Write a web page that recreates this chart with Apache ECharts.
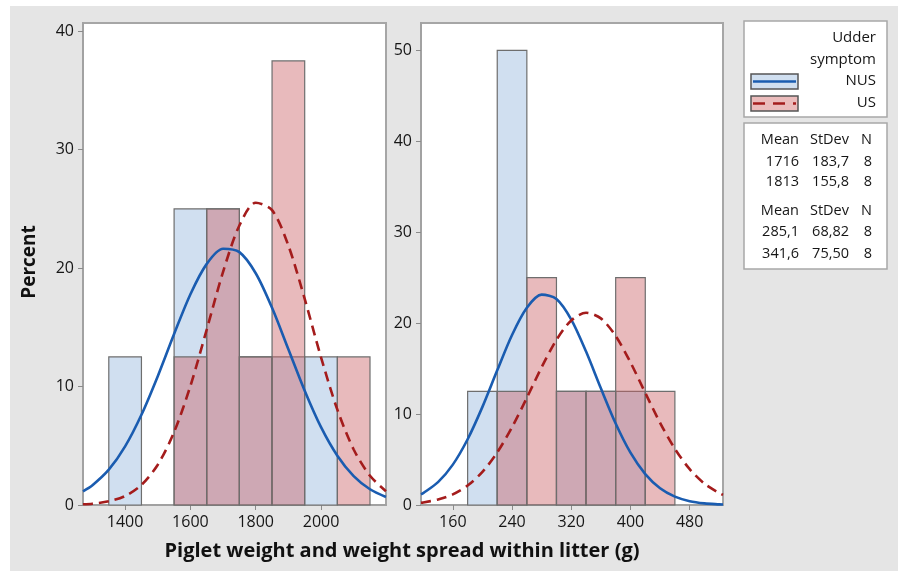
<!DOCTYPE html>
<html><head><meta charset="utf-8">
<script src="https://cdn.jsdelivr.net/npm/echarts@6/dist/echarts.min.js"></script>
<style>html,body{margin:0;padding:0;background:#fff;}#c{width:898px;height:571px;}</style>
</head><body><div id="c"></div>
<script>
// ---- data ----
const leftBinEdges = [1350,1450,1550,1650,1750,1850,1950,2050,2150];
const leftNUS = [12.5,0,25,25,12.5,12.5,12.5,0];
const leftUS  = [0,0,12.5,25,12.5,37.5,0,12.5];
const leftTicks = [1400,1600,1800,2000];
const leftYTicks = [0,10,20,30,40];

const rightBinEdges = [180,220,260,300,340,380,420,460];
const rightNUS = [12.5,50,0,12.5,12.5,12.5,0];
const rightUS  = [0,12.5,25,12.5,12.5,25,12.5];
const rightTicks = [160,240,320,400,480];
const rightYTicks = [0,10,20,30,40,50];

// fitted curves
const leftCurveX = [1271,1300,1350,1400,1450,1500,1550,1600,1650,1700,1750,1800,1850,1900,1950,2000,2050,2100,2150,2199];
const leftNUSCurve = [1.16,1.67,2.98,4.95,7.62,10.88,14.44,17.80,20.36,21.64,21.35,19.57,16.65,13.15,9.65,6.57,4.16,2.44,1.33,0.68];
const leftUSCurve  = [0.06,0.11,0.31,0.76,1.70,3.40,6.16,10.06,14.82,19.69,23.60,25.52,24.90,21.91,17.40,12.47,8.05,4.69,2.47,1.17];

const rightCurveX = [117,120,140,160,180,200,220,240,260,280,300,320,340,360,380,400,420,440,460,480,500,520,525];
const rightNUSCurve = [1.17,1.30,2.51,4.44,7.23,10.79,14.81,18.70,21.69,23.13,22.65,20.39,16.87,12.83,8.96,5.75,3.40,1.84,0.92,0.42,0.18,0.07,0.05];
const rightUSCurve  = [0.25,0.28,0.60,1.17,2.14,3.64,5.78,8.55,11.79,15.15,18.16,20.29,21.14,20.52,18.58,15.68,12.33,9.04,6.18,3.94,2.34,1.30,1.11];

const groups = ['NUS','US'];
const statsHeader = ['Mean','StDev','N'];
const statsLeft = [['1716','183,7','8'],['1813','155,8','8']];
const statsRight = [['285,1','68,82','8'],['341,6','75,50','8']];
const xTitle = 'Piglet weight and weight spread within litter (g)';
const yTitle = 'Percent';
const legendTitle = ['Udder','symptom'];

// ---- styles ----
const FONT = '"Open Sans", "Noto Sans", sans-serif';
const NUS_FILL = '#d0dff0';
const US_FILL = 'rgba(203,98,102,0.44)';
const BAR_STROKE = '#6e6e6e';
const NUS_LINE = '#1a5cb0';
const US_LINE = '#a41c1c';
const TXT = '#161616';

function binData(edges, vals){
  const out = [];
  for (let i=0;i<vals.length;i++){ if (vals[i]>0) out.push([edges[i],edges[i+1],vals[i]]); }
  return out;
}
function barSeries(edges, vals, idx, fill, name, z){
  return {
    type:'custom', name:name, xAxisIndex:idx, yAxisIndex:idx, z:z,
    data: binData(edges, vals),
    encode:{x:[0,1], y:2},
    renderItem:function(params, api){
      const p0 = api.coord([api.value(0), api.value(2)]);
      const p1 = api.coord([api.value(1), 0]);
      return {type:'rect', shape:{x:p0[0], y:p0[1], width:p1[0]-p0[0], height:p1[1]-p0[1]},
        style:{fill:fill, stroke:BAR_STROKE, lineWidth:1.2}};
    }
  };
}
function curve(xs, ys, idx, color, dashed){
  return {type:'line', xAxisIndex:idx, yAxisIndex:idx, z:5, smooth:0.3, showSymbol:false, silent:true,
    data: xs.map((x,i)=>[x, ys[i]]),
    lineStyle:{color:color, width:2.6, type: dashed ? [10,6] : 'solid'}};
}
const plain = v => String(v);
function xAxis(idx, min, max, ticks){
  return {type:'value', gridIndex:idx, min:min, max:max, splitLine:{show:false},
    axisLine:{show:true, onZero:false, lineStyle:{color:'#a0a0a0', width:1.5}},
    axisTick:{show:true, length:5, customValues:ticks, lineStyle:{color:'#8a8a8a'}},
    axisLabel:{customValues:ticks, formatter:plain, margin:9, fontSize:16, color:TXT, fontFamily:FONT}};
}
function yAxis(idx, max, ticks){
  return {type:'value', gridIndex:idx, min:0, max:max, splitLine:{show:false},
    axisLine:{show:true, lineStyle:{color:'#a0a0a0', width:1.5}},
    axisTick:{show:true, length:5, customValues:ticks, lineStyle:{color:'#8a8a8a'}},
    axisLabel:{customValues:ticks, formatter:plain, margin:9, fontSize:16, color:TXT, fontFamily:FONT}};
}

const graphics = [];
graphics.push({type:'rect', z:-10, shape:{x:10, y:6, width:888, height:565}, style:{fill:'#e5e5e5'}, silent:true});
graphics.push({type:'text', x:30, y:262, rotation:Math.PI/2, style:{text:yTitle, font:'bold 19px '+FONT, fill:'#111', textAlign:'center', textVerticalAlign:'middle'}});
graphics.push({type:'text', x:402, y:551, style:{text:xTitle, font:'bold 20px '+FONT, fill:'#111', textAlign:'center', textVerticalAlign:'middle'}});
// legend box
graphics.push({type:'rect', shape:{x:744, y:21, width:143, height:96}, style:{fill:'#fff', stroke:'#a8a8a8', lineWidth:1.5}});
const LF = '15px '+FONT;
graphics.push({type:'text', x:876, y:38, style:{text:legendTitle[0], font:LF, fill:TXT, textAlign:'right', textVerticalAlign:'middle'}});
graphics.push({type:'text', x:876, y:60, style:{text:legendTitle[1], font:LF, fill:TXT, textAlign:'right', textVerticalAlign:'middle'}});
graphics.push({type:'rect', shape:{x:751, y:74, width:47, height:15}, style:{fill:NUS_FILL, stroke:'#555', lineWidth:1.5}});
graphics.push({type:'line', shape:{x1:753, y1:81.5, x2:796, y2:81.5}, style:{stroke:NUS_LINE, lineWidth:2.6}});
graphics.push({type:'rect', shape:{x:751, y:96, width:47, height:15}, style:{fill:'#ebbcbc', stroke:'#555', lineWidth:1.5}});
graphics.push({type:'line', shape:{x1:753, y1:103.5, x2:796, y2:103.5}, style:{stroke:US_LINE, lineWidth:2.6, lineDash:[12,8]}});
graphics.push({type:'text', x:876, y:81, style:{text:groups[0], font:LF, fill:TXT, textAlign:'right', textVerticalAlign:'middle'}});
graphics.push({type:'text', x:876, y:103, style:{text:groups[1], font:LF, fill:TXT, textAlign:'right', textVerticalAlign:'middle'}});
// stats table
graphics.push({type:'rect', shape:{x:744, y:123, width:143, height:146}, style:{fill:'#fff', stroke:'#a8a8a8', lineWidth:1.5}});
const colRight = [799, 849, 872];
function row(cells, y){
  cells.forEach((t,i)=>graphics.push({type:'text', x:colRight[i], y:y, style:{text:t, font:'14.5px '+FONT, fill:TXT, textAlign:'right', textVerticalAlign:'middle'}}));
}
row(statsHeader, 140); row(statsLeft[0], 162); row(statsLeft[1], 182);
row(statsHeader, 211); row(statsRight[0], 232); row(statsRight[1], 254);

const option = {
  animation:false,
  backgroundColor:'transparent',
  grid:[
    {left:83, top:23, width:303, height:482, show:true, backgroundColor:'#fff', borderColor:'#a6a6a6', borderWidth:2, z:0},
    {left:421, top:23, width:302, height:482, show:true, backgroundColor:'#fff', borderColor:'#a6a6a6', borderWidth:2, z:0}
  ],
  xAxis:[xAxis(0, 1271, 2199, leftTicks), xAxis(1, 117, 525, rightTicks)],
  yAxis:[yAxis(0, 40.7, leftYTicks), yAxis(1, 53, rightYTicks)],
  series:[
    barSeries(leftBinEdges, leftNUS, 0, NUS_FILL, 'NUS', 2),
    barSeries(leftBinEdges, leftUS, 0, US_FILL, 'US', 3),
    barSeries(rightBinEdges, rightNUS, 1, NUS_FILL, 'NUS', 2),
    barSeries(rightBinEdges, rightUS, 1, US_FILL, 'US', 3),
    curve(leftCurveX, leftNUSCurve, 0, NUS_LINE, false),
    curve(leftCurveX, leftUSCurve, 0, US_LINE, true),
    curve(rightCurveX, rightNUSCurve, 1, NUS_LINE, false),
    curve(rightCurveX, rightUSCurve, 1, US_LINE, true)
  ],
  graphic:{elements:graphics}
};
echarts.init(document.getElementById('c'), null, {renderer:'canvas'}).setOption(option);
</script></body></html>
